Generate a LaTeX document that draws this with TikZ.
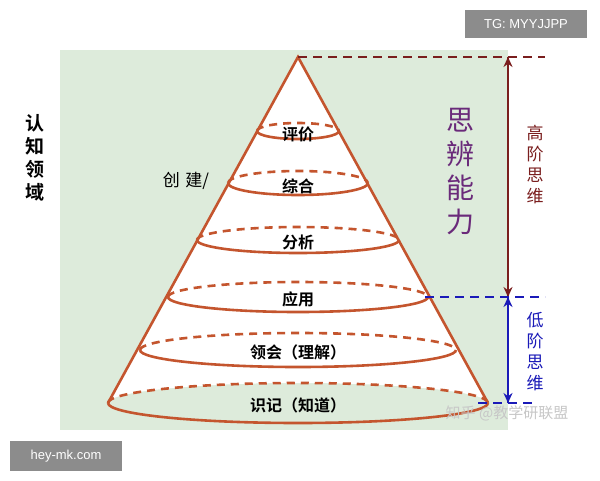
\documentclass[tikz,border=0pt]{standalone}
\usepackage{fontspec}
\newfontfamily\cjk{Noto Sans CJK SC}
\newfontfamily\cjkb{Noto Sans CJK SC Bold}
\usetikzlibrary{arrows.meta}
\definecolor{cone}{HTML}{C4552E}
\definecolor{bgreen}{HTML}{DDEBDB}
\definecolor{darkred}{HTML}{7A1E1E}
\definecolor{lowblue}{HTML}{1A1AB8}
\definecolor{purp}{HTML}{6A2A7A}
\tikzset{
  ring/.style={cone, line width=2.6pt},
  level/.style={font=\cjkb\fontsize{16}{16}\selectfont, inner sep=1pt},
  vtext/.style={align=center, inner sep=0pt},
  guide/.style={dashed, dash pattern=on 9pt off 6pt, line width=2.6pt},
}
\begin{document}
\begin{tikzpicture}[x=1pt,y=-1pt]
\useasboundingbox (0,0) rectangle (600,480);
\fill[white] (0,0) rectangle (600,480);
\fill[bgreen] (60,50) rectangle (508,430);
% cone
\coordinate (apex) at (298,57);
\coordinate (bl) at (108,403);
\coordinate (br) at (488,403);
\fill[white] (apex) -- (bl) arc (180:360:190 and 20) -- cycle;
\draw[ring] (bl) -- (apex) -- (br);
% rings: y, half width, ry
\foreach \y/\r/\ry in {131/41/8, 183/70/12, 240/101/13, 297/130/15, 350/158/17, 403/190/20}{
  \draw[ring] (298-\r,\y) arc (180:360:\r pt and \ry pt);
  \draw[ring, dashed, dash pattern=on 8pt off 6pt] (298-\r,\y) arc (180:0:\r pt and \ry pt);
}
\node[level] (eval) at (298,134) {评价};
\node[level] (synth) at (298,186) {综合};
\node[level] (anal) at (298,242) {分析};
\node[level] (appl) at (298,299) {应用};
\node[level] (comp) at (298,352) {领会（理解）};
\node[level] (know) at (298,405) {识记（知道）};
\node[font=\cjk\fontsize{17}{17}\selectfont] (create) at (186,181) {创\,\,建/};
\node[vtext, font=\cjkb\fontsize{19}{23}\selectfont] (domain) at (35,158) {认\\知\\领\\域};
\node[vtext, font=\cjk\fontsize{28}{34}\selectfont, text=purp] (skill) at (460,172) {思\\辨\\能\\力};
% guides
\coordinate (top) at (545,57);
\coordinate (mid) at (545,297);
\coordinate (bot) at (535,403);
\coordinate (midl) at (425,297);
\coordinate (botl) at (478,403);
\coordinate (at) at (508,57);
\coordinate (am) at (508,297);
\coordinate (ab) at (508,403);
\draw[guide, darkred] (apex) -- (top);
\draw[guide, darkred, -{Stealth[length=10pt,width=9pt]}] (am) -- (at);
\draw[guide, darkred, -{Stealth[length=10pt,width=9pt]}] (at) -- (am);
\draw[guide, lowblue] (midl) -- (mid);
\draw[guide, lowblue] (botl) -- (bot);
\draw[guide, lowblue, -{Stealth[length=10pt,width=9pt]}] (ab) -- (am);
\draw[guide, lowblue, -{Stealth[length=10pt,width=9pt]}] (am) -- (ab);
\node[vtext, font=\cjk\fontsize{17}{21}\selectfont, text=darkred] (high) at (535,165) {高\\阶\\思\\维};
\node[vtext, font=\cjk\fontsize{17}{21}\selectfont, text=lowblue] (low) at (535,352) {低\\阶\\思\\维};
% badges
\node[fill=black!45, text=white, font=\fontspec{Liberation Sans}\fontsize{13}{13}\selectfont, minimum width=122pt, minimum height=28pt] (tg) at (526,24) {TG: MYYJJPP};
\node[fill=black!45, text=white, font=\fontspec{Liberation Sans}\fontsize{13}{13}\selectfont, minimum width=112pt, minimum height=30pt] (site) at (66,456) {hey-mk.com};
\node[text=black!22, font=\cjk\fontsize{15}{15}\selectfont] (mark) at (507,413) {知乎 @教学研联盟};
\end{tikzpicture}
\end{document}
